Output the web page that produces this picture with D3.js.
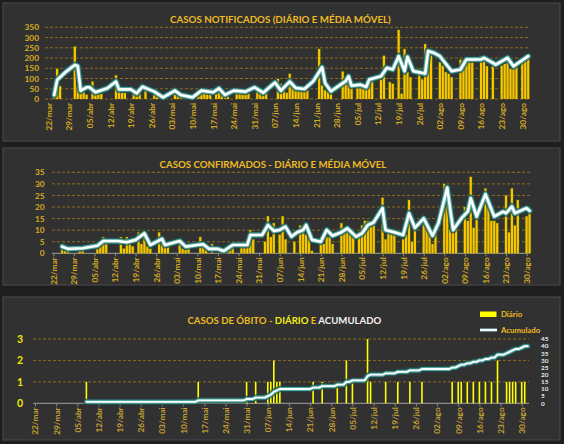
<!DOCTYPE html>
<html><head><meta charset="utf-8">
<script src="https://cdn.jsdelivr.net/npm/d3@7"></script>
<style>
html,body{margin:0;padding:0;background:#1e1e1e;}
svg{display:block;}
text{font-family:Lato,"Open Sans",sans-serif;font-weight:700;}
</style></head><body>
<svg id="c" width="564" height="444"></svg>
<script>
// ---------- DATA ----------
const startDate = "2020-03-22";
const tickLabels = ["22/mar","29/mar","05/abr","12/abr","19/abr","26/abr","03/mai","10/mai","17/mai","24/mai","31/mai","07/jun","14/jun","21/jun","28/jun","05/jul","12/jul","19/jul","26/jul","02/ago","09/ago","16/ago","23/ago","30/ago"];

// Casos notificados (day offset from startDate, value)
const notifDays = [2,3,4, 9,10,11,12,13, 15,16,17,18, 23,24,25,26, 29,30,31,33, 36,37,38, 43,44,45,46, 51,52,53,54,55, 57,58,59,60,61, 64,65,66,67,68, 71,72,73,74, 78,79,80,81, 82,83, 84,85,86,87,88, 92,93,94,95,96, 100,101,102,103, 105,106,107,108,109,110, 113,114,116,117, 119,120,121,122,123, 126,127,128,129,130, 133,134,135,136,137, 140,141,142,143,144, 147,148,149,151, 154,155,156,157,158,159, 161,162,163];
const notifVals = [20,147,63, 256,63,50,34,21, 85,26,30,25, 115,50,30,30, 37,25,34,50, 20,25,18, 53,30,18,15, 34,30,34,30,25, 25,61,20,18,15, 50,42,37,30,25, 58,42,30,30, 98,74,42,30, 123,82, 66,50,42,42,42, 244,66,42,34,25, 134,106,82,58, 66,58,50,66,82,106, 95,211,82,74, 337,26,244,131,106, 147,95,268,245,219, 179,163,131,123,106, 192,190,190,190,190, 210,195,160,185, 163,171,195,147,155,163, 195,203,219];
const notifMADays = [2,3,6,9,10,11,13,14,16,20,23,24,28,30,32,36,39,43,45,49,52,56,58,60,63,67,70,73,77,79,82,84,87,90,93,94,96,101,102,103,106,108,109,113,115,117,119,121,122,124,128,129,131,133,137,140,142,147,148,151,152,156,158,163];
const notifMAVals = [20,93,133,166,161,41,57,57,33,52,85,47,47,28,60,36,8,41,20,8,41,33,52,20,41,36,57,31,80,41,85,54,49,87,155,78,38,87,111,65,70,59,95,111,152,144,209,136,206,136,124,234,225,209,136,144,193,193,201,176,168,201,160,209];

// Casos confirmados
const confDays = [3,4,5, 9,10, 15,16,17,18, 23,24,25,26,27, 29,30,31,32,33, 36,37,38,39, 43,44,45,46, 50,51,52,54, 57,58,59,60,61, 64,65,66,67,68, 72,73,74,75, 77,78,79, 82, 84,85,86,87,88, 91,92,93,94,95, 98,99,100,101,102, 104,105,106,107,108,109, 112,113,114,115,116, 119,120,121,122,123, 126,127,128,129,130, 133,134,135,136,137, 140,141,142,143,144, 147,148,149,150,151, 154,155,156,157,158, 161,162];
const confVals = [4,1,1, 1,2, 2,3,7,4, 7,2,7,4,3, 9,4,9,3,2, 9,5,4,4, 6,2,2,4, 7,3,4,4, 1,1,1,3,4, 4,4,6,10,6, 5,16,7,13, 8,16,6, 5, 12,10,8,8,1, 6,4,7,7,4, 13,9,10,9,7, 9,12,14,14,13,14, 24,6,9,9,9, 6,8,23,5,10, 13,12,9,4,12, 30,29,10,10,11, 20,14,33,11,16, 28,20,14,14,13, 25,9,28,12,23, 16,18];
const confMADays = [3,5,10,15,17,22,25,28,31,33,37,38,43,45,49,51,53,56,58,61,66,67,71,73,75,77,79,81,83,85,86,88,91,93,95,98,100,103,105,107,109,112,113,116,119,121,123,126,129,131,134,136,139,141,142,144,147,150,153,154,156,157,161,162];
const confMAVals = [2.9,1.9,2.2,3.3,5.3,5.3,4.8,5.8,8.6,3.6,6.2,3.6,5.3,2.9,3.6,3.9,1.9,1.9,1.0,3.6,3.6,7.9,7.9,12.2,9.7,10.1,11.5,7.2,9.1,10.1,12.2,5.8,5.0,10.1,7.6,9.1,10.8,7.2,8.6,12.2,13.4,19.5,10.1,9.1,7.9,17.3,11,15.1,7.6,13,28.4,10.1,15.4,18,23.8,15.9,25.5,15.9,18,17.3,20.2,17.3,19.5,18.4];

// Óbitos diários
const deathDays = [17,54,70,73,77,78,79,80,81,92,95,100,103,105,110,111,116,120,124,128,138,140,141,143,145,147,149,151,153,156,157,158,159,161,162];
const deathVals = [1,1,1,1,1,1,2,1,1,1,1,1,2,1,3,1,1,1,1,1,1,1,1,1,1,1,1,1,2,1,1,1,1,1,1];
// Óbitos acumulados (line vertices)
const cumDays = [17,53,54,69,70,72,73,76,77,78,79,80,81,91,92,94,95,99,100,102,103,104,105,109,110,111,115,116,119,120,123,124,127,128,137,138,139,140,141,142,143,144,145,146,147,148,149,150,151,152,153,155,156,157,158,159,160,161,162,163];
const cumVals = [1,1,2,2,3,3,4,4,5,6,8,9,10,10,11,11,12,12,13,13,15,15,16,16,19,20,20,21,21,22,22,23,23,24,24,25,25,26,27,27,28,28,29,29,30,30,31,31,32,32,34,34,35,36,37,38,38,39,40,40];

// ---------- DRAW ----------
const svg = d3.select("#c");
const t0 = d3.utcParse("%Y-%m-%d")(startDate);
const day = d => d3.utcDay.offset(t0, d);
const tickDates = tickLabels.map((_, i) => d3.utcDay.offset(t0, 7 * i));
const lastTick = tickDates[tickDates.length - 1];

const GOLD = "#EDBA22", LABEL = "#D8AC1E", GRID = "#8C6E1C";

// panel frames
[[3,3,557,138],[3,148,557,137],[3,297,557,143]].forEach(p => {
  svg.append("rect").attr("x",p[0]).attr("y",p[1]).attr("width",p[2]).attr("height",p[3])
    .attr("fill","#313131").attr("stroke","#474747").attr("stroke-width",1.2);
});

// title: one text element, font size scaled so its width matches the reference
function title(parts, x, y, len, size) {
  const t = svg.append("text").attr("x", x).attr("y", y).attr("font-size", size);
  parts.forEach(p => t.append("tspan").text(p[0]).attr("fill", p[1]));
  const w = t.node().getComputedTextLength();
  if (w > 0) t.attr("font-size", size * len / w);
}

function grid(y, ticks, x0, x1) {
  svg.append("g").selectAll("line").data(ticks).join("line")
    .attr("x1", x0).attr("x2", x1).attr("y1", d => y(d)).attr("y2", d => y(d))
    .attr("stroke", GRID).attr("stroke-width", 1).attr("stroke-dasharray", "3,2");
}

function xAxis(x, yPos, x0, x1, color, showLine) {
  const g = svg.append("g").attr("transform", `translate(0,${yPos})`);
  const ax = d3.axisBottom(x).tickValues(tickDates).tickFormat((d, i) => tickLabels[i]).tickSize(showLine ? 3 : 0).tickSizeOuter(0);
  g.call(ax);
  g.select(".domain").remove();
  if (showLine) g.append("line").attr("x1", x0).attr("x2", x1).attr("stroke", "#8a8a8a").attr("stroke-width", 1.2);
  g.selectAll(".tick line").attr("stroke", "#8a8a8a");
  g.selectAll(".tick text").attr("transform", "rotate(-90)").attr("text-anchor", "end")
    .attr("x", -4).attr("y", 0).attr("dy", "0.35em").attr("fill", color)
    .attr("font-size", 8.3).attr("font-family", "Lato, sans-serif").attr("font-weight", 700);
}

function yLabels(y, ticks, xPos, color, size) {
  const g = svg.append("g").attr("transform", `translate(${xPos},0)`);
  g.call(d3.axisLeft(y).tickValues(ticks).tickFormat(d3.format("d")).tickSize(0).tickPadding(0));
  g.select(".domain").remove();
  g.selectAll("text").attr("fill", color).attr("font-size", size)
    .attr("font-family", "Lato, sans-serif").attr("font-weight", 700);
}

function bars(x, y, days, vals, w, fill, stroke) {
  const data = days.map((d, i) => [d, vals[i]]);
  if (stroke !== "none") {
    svg.append("g").selectAll("rect").data(data).join("rect")
      .attr("x", d => x(day(d[0])) - w / 2 - 0.8).attr("width", w + 1.6)
      .attr("y", d => y(d[1]) - 0.8).attr("height", d => y(0) - y(d[1]) + 0.8)
      .attr("fill", stroke).attr("opacity", 0.55);
  }
  svg.append("g").selectAll("rect").data(data).join("rect")
    .attr("x", d => x(day(d[0])) - w / 2).attr("width", w)
    .attr("y", d => y(d[1])).attr("height", d => y(0) - y(d[1]))
    .attr("fill", fill);
}

function glowLine(x, y, days, vals, wMain) {
  const pts = days.map((d, i) => [d, vals[i]]);
  const line = d3.line().x(d => x(day(d[0]))).y(d => y(d[1]));
  const g = svg.append("g").attr("fill", "none").attr("stroke-linejoin", "round").attr("stroke-linecap", "round");
  g.append("path").attr("d", line(pts)).attr("stroke", "#1f4e4e").attr("stroke-width", wMain + 4.5).attr("opacity", 0.8);
  g.append("path").attr("d", line(pts)).attr("stroke", "#58b6b2").attr("stroke-width", wMain + 2.2).attr("opacity", 0.85);
  g.append("path").attr("d", line(pts)).attr("stroke", "#ffffff").attr("stroke-width", wMain);
}

// ===== Panel 1 =====
{
  const x = d3.scaleTime().domain([t0, lastTick]).range([48.3, 522.3]);
  const y = d3.scaleLinear().domain([0, 350]).range([99, 27.3]);
  const ticks = d3.range(0, 351, 50);
  grid(y, ticks, 45, 528);
  yLabels(y, ticks, 39, LABEL, 8.3);
  xAxis(x, 99, 45, 528, LABEL, false);
  bars(x, y, notifDays, notifVals, 2.2, "#FFC400", "#3d6a10");
  glowLine(x, y, notifMADays, notifMAVals, 2.6);
  title([["CASOS NOTIFICADOS (DIÁRIO E MÉDIA MÓVEL)", GOLD]], 170, 22.7, 221, 10);
}

// ===== Panel 2 =====
{
  const x = d3.scaleTime().domain([t0, lastTick]).range([53.3, 526.6]);
  const y = d3.scaleLinear().domain([0, 35]).range([253.3, 172.3]);
  const ticks = d3.range(0, 36, 5);
  grid(y, ticks.slice(1), 52, 530);
  yLabels(y, ticks, 44.5, LABEL, 8.3);
  xAxis(x, 253.3, 52, 530, LABEL, true);
  bars(x, y, confDays, confVals, 2.2, "#FFC400", "#3d6a10");
  glowLine(x, y, confMADays, confMAVals, 2.6);
  title([["CASOS CONFIRMADOS - DIÁRIO E MÉDIA MÓVEL", GOLD]], 159.5, 167.7, 227, 10);
}

// ===== Panel 3 =====
{
  const x = d3.scaleTime().domain([t0, lastTick]).range([35, 521.7]);
  const y = d3.scaleLinear().domain([0, 3]).range([403.3, 339]);
  const yR = d3.scaleLinear().domain([0, 45]).range([403.3, 339]);
  grid(y, [1, 2, 3], 33, 529);
  yLabels(y, [0, 1, 2, 3], 23, "#F2E600", 10.5);
  xAxis(x, 403.3, 33, 529, "#C9A232", true);
  bars(x, y, deathDays, deathVals, 1.6, "#FFFF00", "none");
  glowLine(x, yR, cumDays, cumVals, 1.8);
  // right axis labels
  svg.append("g").selectAll("text").data(d3.range(0, 46, 5)).join("text")
    .attr("x", 541).attr("y", d => yR(d)).attr("dy", "0.35em").attr("font-size", 6.4)
    .attr("fill", "#e8e8e8").text(d => d);
  title([["CASOS DE ÓBITO - ", GOLD], ["DIÁRIO", "#F5EE10"], [" E ", GOLD], ["ACUMULADO", "#F2F2F2"]], 187.5, 324, 194, 10);
  // legend
  svg.append("rect").attr("x", 480).attr("y", 311.5).attr("width", 16.5).attr("height", 5.5).attr("fill", "#FFFF00");
  svg.append("text").attr("x", 501).attr("y", 317).attr("font-size", 7.8).attr("fill", GOLD).text("Diário");
  svg.append("line").attr("x1", 480).attr("x2", 497).attr("y1", 330).attr("y2", 330).attr("stroke", "#8fd0cc").attr("stroke-width", 3);
  svg.append("line").attr("x1", 480).attr("x2", 497).attr("y1", 330).attr("y2", 330).attr("stroke", "#ffffff").attr("stroke-width", 1.8);
  svg.append("text").attr("x", 501).attr("y", 332.5).attr("font-size", 7.8).attr("fill", GOLD).text("Acumulado");
}
</script>
</body></html>
